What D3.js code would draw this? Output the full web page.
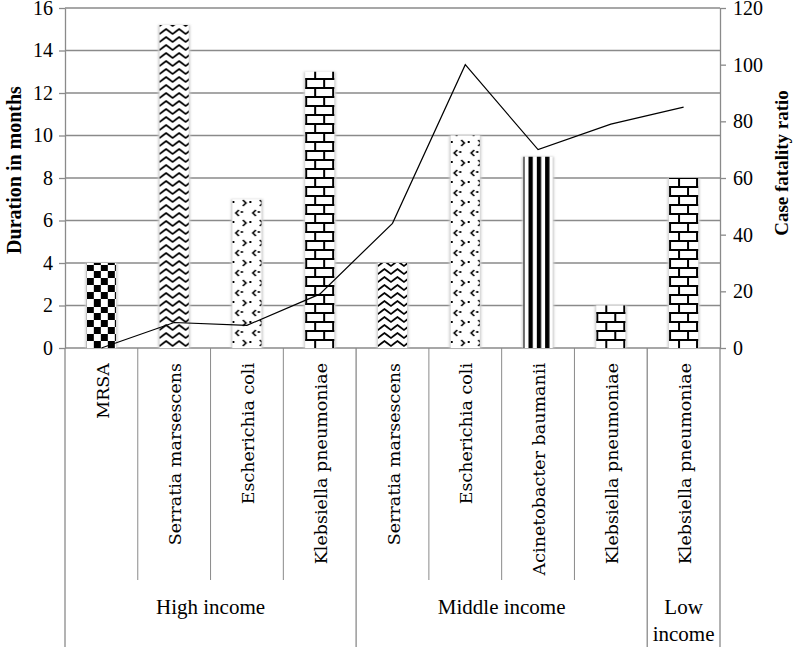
<!DOCTYPE html>
<html>
<head>
<meta charset="utf-8">
<script src="https://cdn.jsdelivr.net/npm/d3@7"></script>
<style>
  body { margin: 0; background: #fff; }
  svg { display: block; }
</style>
</head>
<body>
<div class="chartdiv"></div>
<script>
// chart values
const categories = ['MRSA', 'Serratia marsescens', 'Escherichia coli', 'Klebsiella pneumoniae',
    'Serratia marsescens', 'Escherichia coli', 'Acinetobacter baumanii', 'Klebsiella pneumoniae',
    'Klebsiella pneumoniae']
const groupNames = ['High income', 'Middle income', 'Low income']
const groupSizes = [4, 4, 1]
const duration = [4, 15.2, 7, 13, 4, 10, 9, 2, 8]       // months, left axis
const fatality = [0, 9, 8, 19, 44, 100, 70, 79, 85]      // case fatality ratio, right axis
const fills = ['checker', 'zigzag', 'confetti', 'brick', 'zigzag', 'confetti', 'stripes', 'brick', 'brick']
const leftTicks = [0, 2, 4, 6, 8, 10, 12, 14, 16]
const rightTicks = [0, 20, 40, 60, 80, 100, 120]

const w = 794, h = 650
const plotL = 65, plotR = 720, plotT = 8, plotB = 348, chartB = 647
const grey = '#8a8a8a'
const serif = '"Liberation Serif", "Times New Roman", serif'

let svg = d3.select('.chartdiv').append('svg')
    .attr('width', w)
    .attr('height', h)

svg.append('rect').attr('width', w).attr('height', h).attr('fill', '#fff')

let xScale = d3.scaleBand()
    .domain(d3.range(categories.length))
    .range([plotL, plotR])
    .paddingInner(0.6)
    .paddingOuter(0.3)
let yScale = d3.scaleLinear().domain([0, 16]).range([plotB, plotT])
let y2Scale = d3.scaleLinear().domain([0, 120]).range([plotB, plotT])
let step = xScale.step()

let defs = svg.append('defs')
defs.append('filter').attr('id', 'soft')
    .attr('x', '-30%').attr('width', '160%')
    .append('feGaussianBlur').attr('stdDeviation', 1.2)

// one pattern per bar so that it lines up with the bar edge
function make_pattern(kind, i) {
    let bx = xScale(i)
    let p = defs.append('pattern')
        .attr('id', 'pat' + i)
        .attr('patternUnits', 'userSpaceOnUse')
        .attr('y', plotB)
    p.append('rect').attr('width', 40).attr('height', 40).attr('fill', '#fff')
    if (kind == 'checker') {
        p.attr('x', bx).attr('width', 14).attr('height', 14)
        p.append('rect').attr('x', 0).attr('y', 0).attr('width', 7).attr('height', 7).attr('fill', '#000')
        p.append('rect').attr('x', 7).attr('y', 7).attr('width', 7).attr('height', 7).attr('fill', '#000')
    } else if (kind == 'zigzag') {
        p.attr('x', bx).attr('width', 13).attr('height', 8)
        p.append('path')
            .attr('d', 'M-3.25,3.5 L0,6 L3.25,3.5 L6.5,1 L9.75,3.5 L13,6 L16.25,3.5')
            .attr('fill', 'none').attr('stroke', '#000').attr('stroke-width', 1.7)
    } else if (kind == 'confetti') {
        p.attr('x', bx).attr('width', 17).attr('height', 20)
        let g = p.append('g').attr('fill', 'none').attr('stroke', '#000').attr('stroke-width', 1.7)
        g.append('path').attr('d', 'M6.5,2 L3.5,5 L6.5,8')
        g.append('path').attr('d', 'M10.5,12 L13.5,15 L10.5,18')
        p.append('rect').attr('x', 0).attr('y', 13).attr('width', 2).attr('height', 2).attr('fill', '#000')
        p.append('rect').attr('x', 8.5).attr('y', 3).attr('width', 2).attr('height', 2).attr('fill', '#000')
    } else if (kind == 'brick') {
        p.attr('x', bx).attr('width', 18).attr('height', 18)
        let g = p.append('g').attr('fill', '#000')
        g.append('rect').attr('x', 0).attr('y', 0).attr('width', 18).attr('height', 2)
        g.append('rect').attr('x', 0).attr('y', 9).attr('width', 18).attr('height', 2)
        g.append('rect').attr('x', 0).attr('y', 0).attr('width', 2).attr('height', 9)
        g.append('rect').attr('x', 9).attr('y', 9).attr('width', 2).attr('height', 9)
    } else if (kind == 'stripes') {
        p.attr('x', bx + 5).attr('width', step * 0.4 / 3.5).attr('height', 10)
        p.append('rect').attr('x', 0).attr('y', 0).attr('width', 4.3).attr('height', 10).attr('fill', '#000')
    }
}
fills.forEach((k, i) => make_pattern(k, i))

// gridlines
svg.append('g')
    .selectAll('line')
    .data(leftTicks.filter(d => d > 0))
    .enter()
    .append('line')
    .attr('x1', plotL).attr('x2', plotR)
    .attr('y1', d => yScale(d)).attr('y2', d => yScale(d))
    .attr('stroke', grey).attr('stroke-width', 1.6)

// left axis
let gy = svg.append('g')
    .attr('transform', 'translate(' + plotL + ',0)')
    .call(d3.axisLeft(yScale).tickValues(leftTicks).tickSize(6).tickSizeOuter(0).tickPadding(6))
gy.selectAll('text').style('font-family', serif).style('font-size', '20px').attr('fill', '#000')

// right axis
let gy2 = svg.append('g')
    .attr('transform', 'translate(' + plotR + ',0)')
    .call(d3.axisRight(y2Scale).tickValues(rightTicks).tickSize(6).tickSizeOuter(0).tickPadding(7))
gy2.selectAll('text').style('font-family', serif).style('font-size', '20px').attr('fill', '#000')

svg.selectAll('.domain, .tick line').attr('stroke', grey).attr('stroke-width', 1.3)

// category axis: base line, dividers and group borders
let cat = svg.append('g').attr('stroke', grey)
cat.append('line').attr('x1', plotL).attr('x2', plotR).attr('y1', plotB).attr('y2', plotB).attr('stroke-width', 1.6)
let edges = [0]
groupSizes.forEach(n => edges.push(edges[edges.length - 1] + n))
d3.range(categories.length + 1).forEach(i => {
    let isGroupEdge = edges.indexOf(i) != -1
    cat.append('line')
        .attr('x1', plotL + i * step).attr('x2', plotL + i * step)
        .attr('y1', plotB).attr('y2', isGroupEdge ? chartB : 580)
        .attr('stroke-width', isGroupEdge ? 1.3 : 1)
})

// bars, with a soft grey halo
let bars = svg.append('g')
bars.selectAll('.halo')
    .data(duration)
    .enter()
    .append('rect')
    .attr('class', 'halo')
    .attr('x', (d, i) => xScale(i) - 1.5)
    .attr('y', d => yScale(d))
    .attr('width', xScale.bandwidth() + 3)
    .attr('height', d => plotB - yScale(d))
    .attr('fill', '#cfcfcf')
    .attr('filter', 'url(#soft)')
bars.selectAll('.bar')
    .data(duration)
    .enter()
    .append('rect')
    .attr('class', 'bar')
    .attr('x', (d, i) => xScale(i))
    .attr('y', d => yScale(d))
    .attr('width', xScale.bandwidth())
    .attr('height', d => plotB - yScale(d))
    .attr('fill', (d, i) => 'url(#pat' + i + ')')

// case fatality line
let line = d3.line()
    .x((d, i) => xScale(i) + xScale.bandwidth() / 2)
    .y(d => y2Scale(d))
svg.append('path')
    .datum(fatality)
    .attr('d', line)
    .attr('fill', 'none')
    .attr('stroke', '#000')
    .attr('stroke-width', 1.2)

// category labels
svg.append('g')
    .selectAll('text')
    .data(categories)
    .enter()
    .append('text')
    .attr('transform', (d, i) => 'translate(' + (xScale(i) + xScale.bandwidth() / 2 + 1) + ',' + 363 + ') rotate(-90)')
    .attr('text-anchor', 'end')
    .attr('dy', '0.35em')
    .style('font-family', '"DejaVu Serif", serif')
    .style('font-size', '17.5px')
    .text(d => d)

// group labels
groupNames.forEach((name, gi) => {
    let cx = plotL + (edges[gi] + edges[gi + 1]) / 2 * step
    let t = svg.append('text')
        .attr('x', cx)
        .attr('text-anchor', 'middle')
        .style('font-family', serif)
        .style('font-size', '21px')
    let lines = groupSizes[gi] == 1 ? name.split(' ') : [name]
    lines.forEach((s, j) => {
        t.append('tspan').attr('x', cx).attr('y', 614 + j * 27).text(s)
    })
})

// axis titles
svg.append('text')
    .attr('transform', 'translate(21,170) rotate(-90)')
    .attr('text-anchor', 'middle')
    .style('font-family', serif)
    .style('font-weight', 'bold')
    .style('font-size', '20px')
    .text('Duration in months')

svg.append('text')
    .attr('transform', 'translate(788,163) rotate(-90)')
    .attr('text-anchor', 'middle')
    .style('font-family', serif)
    .style('font-weight', 'bold')
    .style('font-size', '19px')
    .text('Case fatality ratio')
</script>
</body>
</html>
